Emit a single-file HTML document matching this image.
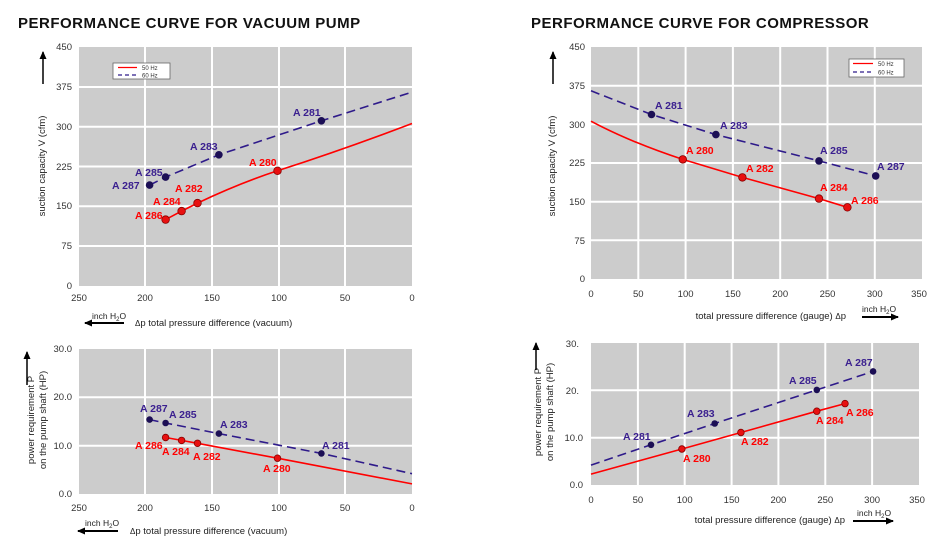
<!DOCTYPE html>
<html><head><meta charset="utf-8"><style>
body{margin:0;background:#fff;}
svg{display:block;font-family:"Liberation Sans",sans-serif;}
.t{font-size:15px;font-weight:bold;fill:#111;letter-spacing:0.5px;}
.tk{font-size:9.5px;fill:#333;}
.ax{font-size:9.5px;fill:#222;}
.lb{font-size:10.5px;font-weight:bold;}
.b{fill:#3a1f8f;} .r{fill:#f00;}
.g{stroke:#fff;stroke-width:2;}
.l60{fill:none;stroke:#2e1a8a;stroke-width:1.6;stroke-dasharray:9,5;}
.l50{fill:none;stroke:#f00;stroke-width:1.6;}
.p60{fill:#1c0f55;} .p50{fill:#e81010;stroke:#800;stroke-width:0.8;}
</style></head><body>
<svg width="950" height="545" viewBox="0 0 950 545">
<defs><marker id="ah" markerUnits="userSpaceOnUse" markerWidth="8" markerHeight="7" refX="7" refY="3.5" orient="auto"><path d="M0,0 L8,3.5 L0,7z" fill="#000"/></marker></defs>
<text class="t" x="18" y="28">PERFORMANCE CURVE FOR VACUUM PUMP</text>
<text class="t" x="531" y="28">PERFORMANCE CURVE FOR COMPRESSOR</text>

<!-- Top-left -->
<rect x="79" y="47" width="333" height="239" fill="#cccccc"/>
<g class="g"><line x1="145" y1="47" x2="145" y2="286"/><line x1="212" y1="47" x2="212" y2="286"/><line x1="279" y1="47" x2="279" y2="286"/><line x1="345" y1="47" x2="345" y2="286"/>
<line x1="79" y1="87" x2="412" y2="87"/><line x1="79" y1="126.7" x2="412" y2="126.7"/><line x1="79" y1="166.5" x2="412" y2="166.5"/><line x1="79" y1="206.3" x2="412" y2="206.3"/><line x1="79" y1="246" x2="412" y2="246"/></g>
<g class="tk" text-anchor="end"><text x="72" y="50">450</text><text x="72" y="90">375</text><text x="72" y="130">300</text><text x="72" y="170">225</text><text x="72" y="209">150</text><text x="72" y="249">75</text><text x="72" y="289">0</text></g>
<g class="tk" text-anchor="middle"><text x="79" y="301">250</text><text x="145" y="301">200</text><text x="212" y="301">150</text><text x="279" y="301">100</text><text x="345" y="301">50</text><text x="412" y="301">0</text></g>
<rect x="113" y="63" width="57" height="16" fill="#fff" stroke="#666" stroke-width="0.8"/>
<line x1="118" y1="67.5" x2="137" y2="67.5" class="l50" style="stroke-width:1.2"/><text x="142" y="70" style="font-size:6px" fill="#333">50 Hz</text>
<line x1="118" y1="75" x2="137" y2="75" class="l60" style="stroke-width:1.2;stroke-dasharray:4,3"/><text x="142" y="77.5" style="font-size:6px" fill="#333">60 Hz</text>
<polyline class="l60" points="149.6,185.1 165.6,177.1 218.9,154.8 321.4,120.8 412,92.1"/>
<path class="l50" d="M165.6,219.6 L181.6,211.1 L197.5,203.1 Q240,183 277.5,170.8 Q345,149 412,123.5"/>
<g class="p60"><circle cx="149.6" cy="185.1" r="3.8"/><circle cx="165.6" cy="177.1" r="3.8"/><circle cx="218.9" cy="154.8" r="3.8"/><circle cx="321.4" cy="120.8" r="3.8"/></g>
<g class="p50"><circle cx="165.6" cy="219.6" r="3.8"/><circle cx="181.6" cy="211.1" r="3.8"/><circle cx="197.5" cy="203.1" r="3.8"/><circle cx="277.5" cy="170.8" r="3.8"/></g>
<g class="lb"><text class="b" x="293" y="116">A 281</text><text class="b" x="190" y="150">A 283</text><text class="b" x="135" y="176">A 285</text><text class="b" x="112" y="189">A 287</text>
<text class="r" x="249" y="166">A 280</text><text class="r" x="175" y="192">A 282</text><text class="r" x="153" y="205">A 284</text><text class="r" x="135" y="219">A 286</text></g>
<text class="ax" transform="translate(45,166) rotate(-90)" text-anchor="middle">suction capacity V (cfm)</text>
<line x1="43" y1="84" x2="43" y2="52" stroke="#000" stroke-width="1.5" marker-end="url(#ah)"/>
<text class="ax" x="92" y="319" style="font-size:8.5px">inch H<tspan dy="2" style="font-size:6px">2</tspan><tspan dy="-2">O</tspan></text>
<line x1="124" y1="323" x2="85" y2="323" stroke="#000" stroke-width="2" marker-end="url(#ah)"/>
<text class="ax" x="135" y="326"><tspan style="font-size:8px">Δ</tspan>p   total pressure difference (vacuum)</text>

<!-- Top-right -->
<rect x="591" y="47" width="331" height="232" fill="#cccccc"/>
<g class="g"><line x1="638.3" y1="47" x2="638.3" y2="279"/><line x1="685.6" y1="47" x2="685.6" y2="279"/><line x1="732.9" y1="47" x2="732.9" y2="279"/><line x1="780.2" y1="47" x2="780.2" y2="279"/><line x1="827.5" y1="47" x2="827.5" y2="279"/><line x1="874.8" y1="47" x2="874.8" y2="279"/>
<line x1="591" y1="85.7" x2="922" y2="85.7"/><line x1="591" y1="124.3" x2="922" y2="124.3"/><line x1="591" y1="163" x2="922" y2="163"/><line x1="591" y1="201.7" x2="922" y2="201.7"/><line x1="591" y1="240.3" x2="922" y2="240.3"/></g>
<g class="tk" text-anchor="end"><text x="585" y="50">450</text><text x="585" y="89">375</text><text x="585" y="128">300</text><text x="585" y="166">225</text><text x="585" y="205">150</text><text x="585" y="244">75</text><text x="585" y="282">0</text></g>
<g class="tk" text-anchor="middle"><text x="591" y="297">0</text><text x="638.3" y="297">50</text><text x="685.6" y="297">100</text><text x="732.9" y="297">150</text><text x="780.2" y="297">200</text><text x="827.5" y="297">250</text><text x="874.8" y="297">300</text><text x="919" y="297">350</text></g>
<rect x="849" y="59" width="55" height="18" fill="#fff" stroke="#666" stroke-width="0.8"/>
<line x1="853" y1="63.5" x2="873" y2="63.5" class="l50" style="stroke-width:1.2"/><text x="878" y="66" style="font-size:6px" fill="#333">50 Hz</text>
<line x1="853" y1="72" x2="873" y2="72" class="l60" style="stroke-width:1.2;stroke-dasharray:4,3"/><text x="878" y="74.5" style="font-size:6px" fill="#333">60 Hz</text>
<polyline class="l60" points="591,90.8 651.5,114.5 715.9,134.6 819,160.9 875.7,175.9"/>
<path class="l50" d="M591,121.2 Q630,142 682.8,159.4 L742.4,177.4 L819,198.6 L847.4,207.3"/>
<g class="p60"><circle cx="651.5" cy="114.5" r="3.8"/><circle cx="715.9" cy="134.6" r="3.8"/><circle cx="819" cy="160.9" r="3.8"/><circle cx="875.7" cy="175.9" r="3.8"/></g>
<g class="p50"><circle cx="682.8" cy="159.4" r="3.8"/><circle cx="742.4" cy="177.4" r="3.8"/><circle cx="819" cy="198.6" r="3.8"/><circle cx="847.4" cy="207.3" r="3.8"/></g>
<g class="lb"><text class="b" x="655" y="109">A 281</text><text class="b" x="720" y="129">A 283</text><text class="b" x="820" y="154">A 285</text><text class="b" x="877" y="170">A 287</text>
<text class="r" x="686" y="154">A 280</text><text class="r" x="746" y="172">A 282</text><text class="r" x="820" y="191">A 284</text><text class="r" x="851" y="204">A 286</text></g>
<text class="ax" transform="translate(555,166) rotate(-90)" text-anchor="middle">suction capacity V (cfm)</text>
<line x1="553" y1="84" x2="553" y2="52" stroke="#000" stroke-width="1.5" marker-end="url(#ah)"/>
<text class="ax" x="846" y="319" text-anchor="end">total pressure difference (gauge)  <tspan style="font-size:8px">Δ</tspan>p</text>
<text class="ax" x="862" y="312" style="font-size:8.5px">inch H<tspan dy="2" style="font-size:6px">2</tspan><tspan dy="-2">O</tspan></text>
<line x1="862" y1="317" x2="898" y2="317" stroke="#000" stroke-width="2" marker-end="url(#ah)"/>

<!-- Bottom-left -->
<rect x="79" y="349" width="333" height="145" fill="#cccccc"/>
<g class="g"><line x1="145" y1="349" x2="145" y2="494"/><line x1="212" y1="349" x2="212" y2="494"/><line x1="279" y1="349" x2="279" y2="494"/><line x1="345" y1="349" x2="345" y2="494"/>
<line x1="79" y1="397.3" x2="412" y2="397.3"/><line x1="79" y1="445.7" x2="412" y2="445.7"/></g>
<g class="tk" text-anchor="end"><text x="72" y="352">30.0</text><text x="72" y="400">20.0</text><text x="72" y="449">10.0</text><text x="72" y="497">0.0</text></g>
<g class="tk" text-anchor="middle"><text x="79" y="511">250</text><text x="145" y="511">200</text><text x="212" y="511">150</text><text x="279" y="511">100</text><text x="345" y="511">50</text><text x="412" y="511">0</text></g>
<polyline class="l60" points="149.6,419.6 165.6,423 218.9,433.6 321.4,453.4 412,473.7"/>
<polyline class="l50" points="165.6,437.5 181.6,440.4 197.5,443.3 277.5,458.2 412,483.9"/>
<g class="p60"><circle cx="149.6" cy="419.6" r="3.3"/><circle cx="165.6" cy="423" r="3.3"/><circle cx="218.9" cy="433.6" r="3.3"/><circle cx="321.4" cy="453.4" r="3.3"/></g>
<g class="p50"><circle cx="165.6" cy="437.5" r="3.3"/><circle cx="181.6" cy="440.4" r="3.3"/><circle cx="197.5" cy="443.3" r="3.3"/><circle cx="277.5" cy="458.2" r="3.3"/></g>
<g class="lb"><text class="b" x="140" y="412">A 287</text><text class="b" x="169" y="418">A 285</text><text class="b" x="220" y="428">A 283</text><text class="b" x="322" y="449">A 281</text>
<text class="r" x="135" y="449">A 286</text><text class="r" x="162" y="455">A 284</text><text class="r" x="193" y="460">A 282</text><text class="r" x="263" y="472">A 280</text></g>
<text class="ax" transform="translate(34,420) rotate(-90)" text-anchor="middle">power requirement P</text>
<text class="ax" transform="translate(46,420) rotate(-90)" text-anchor="middle">on the pump shaft (HP)</text>
<line x1="27" y1="385" x2="27" y2="352" stroke="#000" stroke-width="1.5" marker-end="url(#ah)"/>
<text class="ax" x="85" y="526" style="font-size:8.5px">inch H<tspan dy="2" style="font-size:6px">2</tspan><tspan dy="-2">O</tspan></text>
<line x1="118" y1="531" x2="78" y2="531" stroke="#000" stroke-width="2" marker-end="url(#ah)"/>
<text class="ax" x="130" y="534"><tspan style="font-size:8px">Δ</tspan>p   total pressure difference (vacuum)</text>

<!-- Bottom-right -->
<rect x="591" y="343" width="328" height="142" fill="#cccccc"/>
<g class="g"><line x1="637.9" y1="343" x2="637.9" y2="485"/><line x1="684.7" y1="343" x2="684.7" y2="485"/><line x1="731.6" y1="343" x2="731.6" y2="485"/><line x1="778.4" y1="343" x2="778.4" y2="485"/><line x1="825.3" y1="343" x2="825.3" y2="485"/><line x1="872.1" y1="343" x2="872.1" y2="485"/>
<line x1="591" y1="390.3" x2="919" y2="390.3"/><line x1="591" y1="437.7" x2="919" y2="437.7"/></g>
<g class="tk" text-anchor="end"><text x="579" y="347">30.</text><text x="579" y="394">20.</text><text x="583" y="441">10.0</text><text x="583" y="488">0.0</text></g>
<g class="tk" text-anchor="middle"><text x="591" y="503">0</text><text x="637.9" y="503">50</text><text x="684.7" y="503">100</text><text x="731.6" y="503">150</text><text x="778.4" y="503">200</text><text x="825.3" y="503">250</text><text x="872.1" y="503">300</text><text x="917" y="503">350</text></g>
<polyline class="l60" points="591,465.1 651,444.8 714.7,423.5 816.8,389.9 873.1,371.4"/>
<polyline class="l50" points="591,474.1 681.9,449 740.9,432.5 816.8,411.2 845,403.6"/>
<g class="p60"><circle cx="651" cy="444.8" r="3.3"/><circle cx="714.7" cy="423.5" r="3.3"/><circle cx="816.8" cy="389.9" r="3.3"/><circle cx="873.1" cy="371.4" r="3.3"/></g>
<g class="p50"><circle cx="681.9" cy="449" r="3.3"/><circle cx="740.9" cy="432.5" r="3.3"/><circle cx="816.8" cy="411.2" r="3.3"/><circle cx="845" cy="403.6" r="3.3"/></g>
<g class="lb"><text class="b" x="623" y="440">A 281</text><text class="b" x="687" y="417">A 283</text><text class="b" x="789" y="384">A 285</text><text class="b" x="845" y="366">A 287</text>
<text class="r" x="683" y="462">A 280</text><text class="r" x="741" y="445">A 282</text><text class="r" x="816" y="424">A 284</text><text class="r" x="846" y="416">A 286</text></g>
<text class="ax" transform="translate(541,412) rotate(-90)" text-anchor="middle">power requirement P</text>
<text class="ax" transform="translate(553,412) rotate(-90)" text-anchor="middle">on the pump shaft (HP)</text>
<line x1="536" y1="370" x2="536" y2="343" stroke="#000" stroke-width="1.5" marker-end="url(#ah)"/>
<text class="ax" x="845" y="523" text-anchor="end">total pressure difference (gauge)  <tspan style="font-size:8px">Δ</tspan>p</text>
<text class="ax" x="857" y="516" style="font-size:8.5px">inch H<tspan dy="2" style="font-size:6px">2</tspan><tspan dy="-2">O</tspan></text>
<line x1="853" y1="521" x2="893" y2="521" stroke="#000" stroke-width="2" marker-end="url(#ah)"/>
</svg>
</body></html>
